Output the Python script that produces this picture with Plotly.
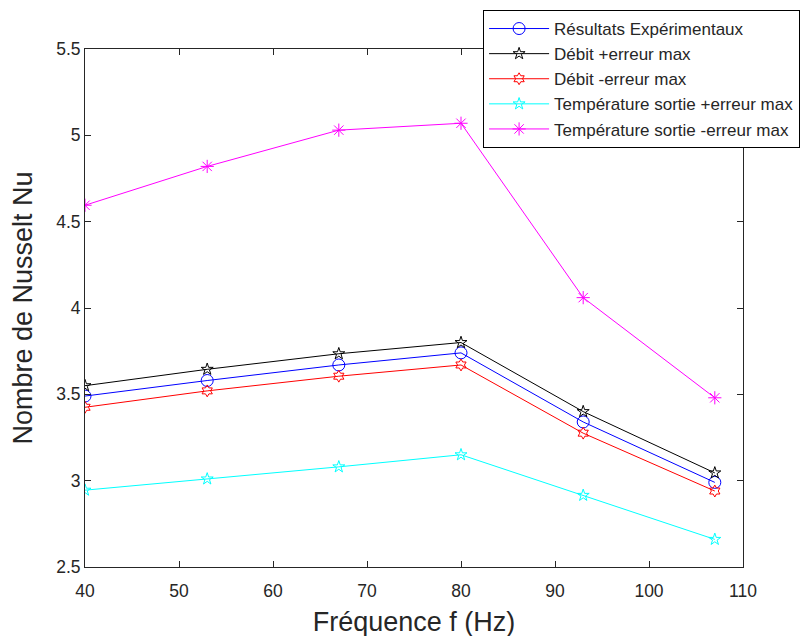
import plotly.graph_objects as go

freq = [40, 53, 67, 80, 93, 107]
resultats_exp = [3.49, 3.58, 3.67, 3.74, 3.34, 2.99]
debit_plus = [3.55, 3.645, 3.735, 3.80, 3.40, 3.045]
debit_moins = [3.425, 3.52, 3.605, 3.67, 3.275, 2.94]
temp_plus = [2.945, 3.01, 3.08, 3.15, 2.915, 2.66]
temp_moins = [4.595, 4.82, 5.03, 5.07, 4.06, 3.48]

series_names = [
    "Résultats Expérimentaux",
    "Débit +erreur max",
    "Débit -erreur max",
    "Température sortie +erreur max",
    "Température sortie -erreur max",
]
x_ticks = [40, 50, 60, 70, 80, 90, 100, 110]
y_ticks = [2.5, 3, 3.5, 4, 4.5, 5, 5.5]

styles = [
    dict(color="#0000FF", symbol="circle-open", size=12),
    dict(color="#000000", symbol="star-open", size=9),
    dict(color="#FF0000", symbol="hexagram-open", size=9),
    dict(color="#00FFFF", symbol="star-open", size=9),
    dict(color="#FF00FF", symbol="asterisk-open", size=11),
]
data = [resultats_exp, debit_plus, debit_moins, temp_plus, temp_moins]

fig = go.Figure()
for name, ys, st in zip(series_names, data, styles):
    fig.add_trace(go.Scatter(
        x=freq, y=ys, name=name, mode="lines+markers",
        line=dict(color=st["color"], width=1),
        marker=dict(symbol=st["symbol"], size=st["size"], color=st["color"],
                    line=dict(color=st["color"], width=1)),
    ))

font_family = "Liberation Sans, Arial, Helvetica, sans-serif"
axis_color = "#262626"

fig.update_layout(
    width=810, height=636,
    margin=dict(l=77, r=75, t=41, b=77, autoexpand=False),
    paper_bgcolor="white", plot_bgcolor="white",
    font=dict(family=font_family, color=axis_color, size=17),
    showlegend=True,
    legend=dict(
        x=0.605, y=1.0753, xanchor="left", yanchor="top",
        bgcolor="white", bordercolor="#000000", borderwidth=1,
        font=dict(size=17, color=axis_color),
        itemwidth=60, tracegroupgap=0,
    ),
    xaxis=dict(
        range=[40, 110], tickvals=x_ticks, showgrid=False, zeroline=False,
        showline=True, linecolor=axis_color, linewidth=1, mirror="allticks",
        ticks="inside", ticklen=6, tickcolor=axis_color, ticklabelstandoff=8,
        tickfont=dict(size=17.5, color=axis_color),
        title=dict(text="Fréquence f (Hz)", font=dict(size=27, color=axis_color), standoff=12),
    ),
    yaxis=dict(
        range=[2.5, 5.5], tickvals=y_ticks, showgrid=False, zeroline=False,
        showline=True, linecolor=axis_color, linewidth=1, mirror="allticks",
        ticks="inside", ticklen=6, tickcolor=axis_color,
        tickfont=dict(size=17.5, color=axis_color),
        title=dict(text="Nombre de Nusselt Nu", font=dict(size=27, color=axis_color), standoff=15),
    ),
)

fig.write_html("out.html")
